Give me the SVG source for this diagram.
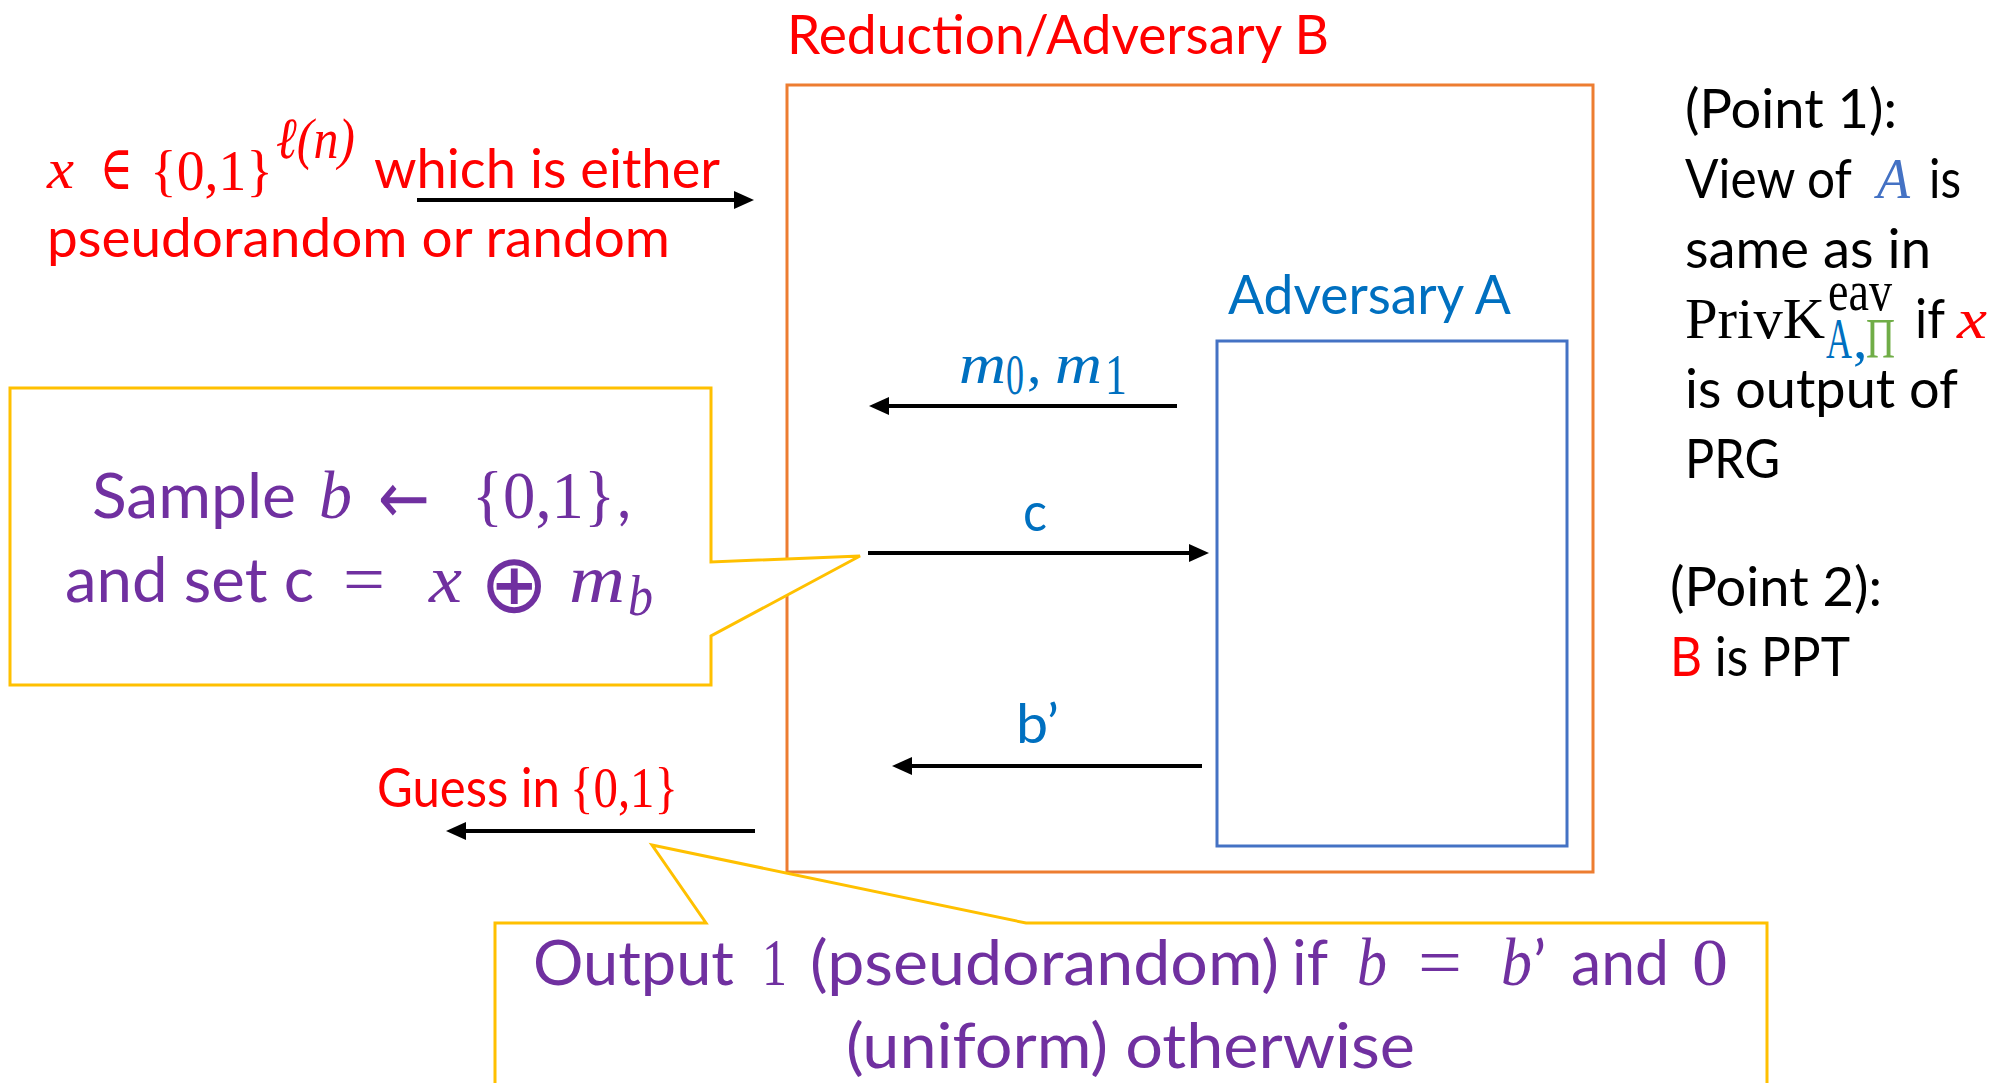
<svg xmlns="http://www.w3.org/2000/svg" width="2010" height="1083" viewBox="0 0 2010 1083">
<style>
.s{font-family:Lato,'Open Sans','Liberation Sans',sans-serif;font-size:54px}
.m{font-family:'Liberation Serif','DejaVu Serif',serif;font-size:58px}
.d{font-family:'DejaVu Sans',sans-serif}
.i{font-style:italic}
.red{fill:#FF0000}.blue{fill:#0070C0}.pur{fill:#7030A0}.blk{fill:#000000}
.big{font-size:62px}.bigm{font-size:68px}
.arrow{stroke:#000;stroke-width:4;fill:none;marker-end:url(#ah)}
.callout{fill:#ffffff;stroke:#FFC000;stroke-width:3}
</style>
<defs>
<marker id="ah" markerUnits="userSpaceOnUse" markerWidth="20" markerHeight="18" refX="8" refY="9" orient="auto" overflow="visible">
<path d="M0,0 L20,9 L0,18 z" fill="#000"/>
</marker>
</defs>
<rect width="2010" height="1083" fill="#ffffff"/>

<g id="adversary-b">
<rect x="787" y="85" width="806" height="787" fill="none" stroke="#ED7D31" stroke-width="3"/>
<text class="s red" x="787" y="54" textLength="542" lengthAdjust="spacingAndGlyphs">Reduction/Adversary B</text>
</g>

<g id="adversary-a">
<rect x="1217" y="341" width="350" height="505" fill="none" stroke="#4472C4" stroke-width="3"/>
<text class="s blue" x="1228" y="314" textLength="283" lengthAdjust="spacingAndGlyphs">Adversary A</text>
</g>

<g id="input-label">
<text class="m i red" x="47" y="188" textLength="27" lengthAdjust="spacingAndGlyphs">x</text>
<text class="red" x="100" y="189" font-family="'DejaVu Serif',serif" font-size="62" textLength="33" lengthAdjust="spacingAndGlyphs">∈</text>
<text class="m red" x="150" y="190" font-size="62" textLength="123" lengthAdjust="spacingAndGlyphs">{0,1}</text>
<text class="m i red" x="276" y="158" font-size="44" textLength="79" lengthAdjust="spacingAndGlyphs">ℓ(n)</text>
<text class="s red" x="374" y="188" textLength="346" lengthAdjust="spacingAndGlyphs">which is either</text>
<text class="s red" x="47" y="257" textLength="623" lengthAdjust="spacingAndGlyphs">pseudorandom or random</text>
</g>

<g id="callout-sample">
<polygon class="callout" points="10,388 711,388 711,562 860,556 711,636 711,685 10,685"/>
<text class="s pur big" x="92" y="518" textLength="204" lengthAdjust="spacingAndGlyphs">Sample</text>
<text class="m i pur bigm" x="319" y="518" textLength="33" lengthAdjust="spacingAndGlyphs">b</text>
<text class="d pur" x="378" y="523" font-size="72" textLength="52" lengthAdjust="spacingAndGlyphs">←</text>
<text class="m pur bigm" x="472" y="518" textLength="143" lengthAdjust="spacingAndGlyphs">{0,1}</text>
<text class="s pur big" x="617" y="518">,</text>
<text class="s pur big" x="65" y="602" textLength="249" lengthAdjust="spacingAndGlyphs">and set c</text>
<text class="m pur bigm" x="343" y="602" textLength="42" lengthAdjust="spacingAndGlyphs">=</text>
<text class="m i pur bigm" x="429" y="602" textLength="33" lengthAdjust="spacingAndGlyphs">x</text>
<text class="d pur" x="480" y="612" font-size="82">⊕</text>
<text class="m i pur bigm" x="569" y="602" textLength="56" lengthAdjust="spacingAndGlyphs">m</text>
<text class="m i pur" x="628" y="615" font-size="48" textLength="25" lengthAdjust="spacingAndGlyphs">b</text>
</g>

<g id="callout-output">
<polygon class="callout" points="495,1095 495,923 706,923 652,845 1026,923 1767,923 1767,1095"/>
<text class="s pur big" x="533" y="985" textLength="201" lengthAdjust="spacingAndGlyphs">Output</text>
<text class="m pur bigm" x="762" y="985" textLength="25" lengthAdjust="spacingAndGlyphs">1</text>
<text class="s pur big" x="810" y="985" textLength="469" lengthAdjust="spacingAndGlyphs">(pseudorandom)</text>
<text class="s pur big" x="1292" y="985" textLength="36" lengthAdjust="spacingAndGlyphs">if</text>
<text class="m i pur bigm" x="1357" y="985" textLength="30" lengthAdjust="spacingAndGlyphs">b</text>
<text class="m pur bigm" x="1418" y="985" textLength="44" lengthAdjust="spacingAndGlyphs">=</text>
<text class="m i pur bigm" x="1501" y="985" textLength="31" lengthAdjust="spacingAndGlyphs">b</text>
<text class="s pur big" x="1533" y="985">’</text>
<text class="s pur big" x="1571" y="985" textLength="98" lengthAdjust="spacingAndGlyphs">and</text>
<text class="m pur bigm" x="1692" y="985" textLength="36" lengthAdjust="spacingAndGlyphs">0</text>
<text class="s pur big" x="846" y="1068" textLength="569" lengthAdjust="spacingAndGlyphs">(uniform) otherwise</text>
</g>

<g id="guess-label">
<text class="s red" x="377" y="807" font-size="50" textLength="183" lengthAdjust="spacingAndGlyphs">Guess in</text>
<text class="m red" x="570" y="807" font-size="52" textLength="108" lengthAdjust="spacingAndGlyphs">{0,1}</text>
</g>

<g id="point1">
<text class="s blk" x="1685" y="128" textLength="212" lengthAdjust="spacingAndGlyphs">(Point 1):</text>
<text class="s blk" x="1685" y="198" textLength="167" lengthAdjust="spacingAndGlyphs">View of</text>
<text class="m i" x="1877" y="198" fill="#4472C4" textLength="33" lengthAdjust="spacingAndGlyphs">A</text>
<text class="s blk" x="1929" y="198" textLength="32" lengthAdjust="spacingAndGlyphs">is</text>
<text class="s blk" x="1685" y="268" textLength="246" lengthAdjust="spacingAndGlyphs">same as in</text>
<text class="m blk" x="1685" y="338" textLength="140" lengthAdjust="spacingAndGlyphs">PrivK</text>
<text class="m blk" x="1828" y="310" font-size="38" textLength="64" lengthAdjust="spacingAndGlyphs">eav</text>
<text class="m blue" x="1826" y="358" font-size="36" textLength="26" lengthAdjust="spacingAndGlyphs">A</text>
<text class="m blue" x="1853" y="358" font-size="36">,</text>
<text class="m" x="1866" y="358" font-size="36" fill="#70AD47" textLength="29" lengthAdjust="spacingAndGlyphs">Π</text>
<text class="s blk" x="1915" y="338" textLength="30" lengthAdjust="spacingAndGlyphs">if</text>
<text class="m i red" x="1957" y="338" textLength="30" lengthAdjust="spacingAndGlyphs">x</text>
<text class="s blk" x="1685" y="408" textLength="273" lengthAdjust="spacingAndGlyphs">is output of</text>
<text class="s blk" x="1685" y="478" textLength="95" lengthAdjust="spacingAndGlyphs">PRG</text>
</g>

<g id="point2">
<text class="s blk" x="1670" y="606" textLength="212" lengthAdjust="spacingAndGlyphs">(Point 2):</text>
<text class="s blk" x="1670" y="676" textLength="180" lengthAdjust="spacingAndGlyphs"><tspan class="red">B</tspan> is PPT</text>
</g>

<g id="connectors">
<line class="arrow" x1="417" y1="200" x2="742" y2="200"/>
<line class="arrow" x1="1177" y1="406" x2="881" y2="406"/>
<line class="arrow" x1="868" y1="553" x2="1197" y2="553"/>
<line class="arrow" x1="1202" y1="766" x2="904" y2="766"/>
<line class="arrow" x1="755" y1="831" x2="458" y2="831"/>
<g id="connector-labels">
<text class="m i blue" x="959" y="383" textLength="47" lengthAdjust="spacingAndGlyphs">m</text>
<text class="m blue" x="1006" y="394" font-size="40" textLength="18" lengthAdjust="spacingAndGlyphs">0</text>
<text class="m blue" x="1027" y="383">,</text>
<text class="m i blue" x="1055" y="383" textLength="47" lengthAdjust="spacingAndGlyphs">m</text>
<text class="m blue" x="1105" y="394" font-size="40" textLength="22" lengthAdjust="spacingAndGlyphs">1</text>
<text class="s blue" x="1023" y="531" textLength="24" lengthAdjust="spacingAndGlyphs">c</text>
<text class="s blue" x="1016" y="743" textLength="43" lengthAdjust="spacingAndGlyphs">b’</text>
</g>
</g>
</svg>
